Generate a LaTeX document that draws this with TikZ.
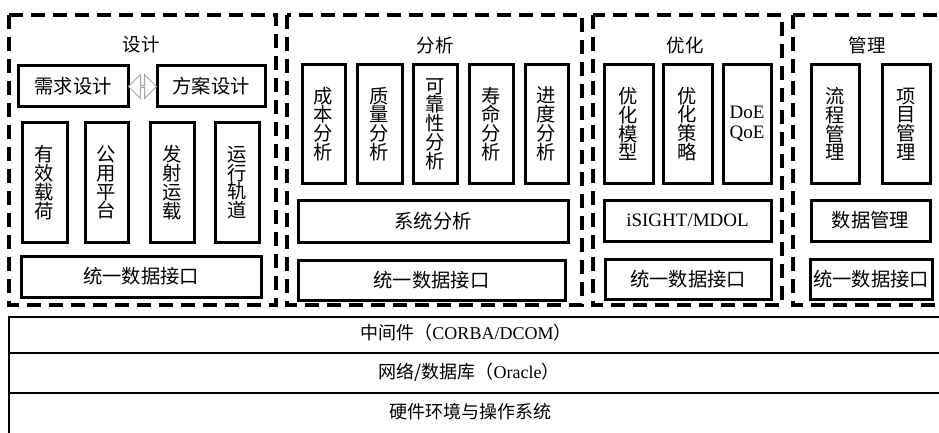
\documentclass[tikz,border=0pt]{standalone}
\usepackage{fontspec}
\setmainfont{Liberation Serif}
\newfontfamily\cjk{Noto Sans CJK SC}
\usetikzlibrary{shapes.arrows}
\begin{document}
\begin{tikzpicture}[x=1pt,y=-1pt,
  box/.style={draw, line width=3pt, inner sep=0pt, align=center, font=\cjk\fontsize{19.3}{18.8}\selectfont},
  dbox/.style={draw, line width=3.2pt, dash pattern=on 14pt off 8pt},
  layer/.style={draw, line width=2.2pt, inner sep=0pt, anchor=north west},
  ttl/.style={font=\cjk\fontsize{18.5}{19}\selectfont, inner sep=0pt},
  ltxt/.style={font=\fontsize{18}{19}\selectfont, inner sep=0pt}]
\useasboundingbox (0,0) rectangle (939,433);
% dashed groups
\draw[dbox] (9,15) rectangle (276,305);
\draw[dbox] (287,15) rectangle (582,305);
\draw[dbox] (593,15) rectangle (782,305);
\draw[dbox] (793,15) rectangle (960,305);
% titles
\node[ttl] (t1) at (141,45) {设计};
\node[ttl] (t2) at (435,45) {分析};
\node[ttl] (t3) at (685,45) {优化};
\node[ttl] (t4) at (867,45) {管理};
% design
\node[box, minimum width=110, minimum height=41] (req) at (73,86.5) {需求设计};
\node[box, minimum width=108, minimum height=41] (fang) at (211,86.5) {方案设计};
\node[double arrow, draw=gray!70, line width=1pt, fill=white, inner sep=0pt,
      minimum height=28, minimum width=24, double arrow head extend=7pt,
      double arrow head indent=0pt] (arr) at (142.5,86.5) {};
\node[box, minimum width=45, minimum height=119] (v1) at (44.5,182.5) {有\\效\\载\\荷};
\node[box, minimum width=43, minimum height=119] (v2) at (106.5,182.5) {公\\用\\平\\台};
\node[box, minimum width=44, minimum height=119] (v3) at (172,182.5) {发\\射\\运\\载};
\node[box, minimum width=44, minimum height=119] (v4) at (237,182.5) {运\\行\\轨\\道};
\node[box, minimum width=240, minimum height=41] (if1) at (141,276.5) {统一数据接口};
% analysis
\node[box, minimum width=43, minimum height=118] (a1) at (323.5,124) {成\\本\\分\\析};
\node[box, minimum width=45, minimum height=118] (a2) at (379.5,124) {质\\量\\分\\析};
\node[box, minimum width=44, minimum height=118] (a3) at (435,124) {可\\靠\\性\\分\\析};
\node[box, minimum width=44, minimum height=118] (a4) at (491,124) {寿\\命\\分\\析};
\node[box, minimum width=43, minimum height=118] (a5) at (546.5,124) {进\\度\\分\\析};
\node[box, minimum width=270, minimum height=42] (sys) at (433,221) {系统分析};
\node[box, minimum width=267, minimum height=40] (if2) at (431.5,280) {统一数据接口};
% optimisation
\node[box, minimum width=49, minimum height=118] (o1) at (628.5,124) {优\\化\\模\\型};
\node[box, minimum width=49, minimum height=118] (o2) at (687.5,124) {优\\化\\策\\略};
\node[box, minimum width=48, minimum height=118, font=\fontsize{19}{20}\selectfont] (o3) at (747,124) {DoE\\QoE};
\node[box, minimum width=167, minimum height=41, font=\fontsize{19}{20}\selectfont] (isight) at (687.5,220.5) {iSIGHT/MDOL};
\node[box, minimum width=166, minimum height=40] (if3) at (688,279) {统一数据接口};
% management
\node[box, minimum width=48, minimum height=118] (m1) at (835,124) {流\\程\\管\\理};
\node[box, minimum width=48, minimum height=118] (m2) at (906,124) {项\\目\\管\\理};
\node[box, minimum width=119, minimum height=41] (dm) at (870.5,220.5) {数据管理};
\node[box, minimum width=122, minimum height=40] (if4) at (871,279) {统一数据接口};
% layers
\node[layer, minimum width=950, minimum height=36] (l1) at (8,316) {};
\node[layer, minimum width=950, minimum height=40] (l2) at (8,352) {};
\node[layer, minimum width=950, minimum height=50] (l3) at (8,392) {};
\node[ltxt] (l1t) at (466,333) {{\cjk 中间件（}CORBA/DCOM{\cjk ）}};
\node[ltxt] (l2t) at (469,372) {{\cjk 网络/数据库（}Oracle{\cjk ）}};
\node[ltxt, font=\cjk\fontsize{18}{19}\selectfont] (l3t) at (470,412) {硬件环境与操作系统};
\end{tikzpicture}
\end{document}
